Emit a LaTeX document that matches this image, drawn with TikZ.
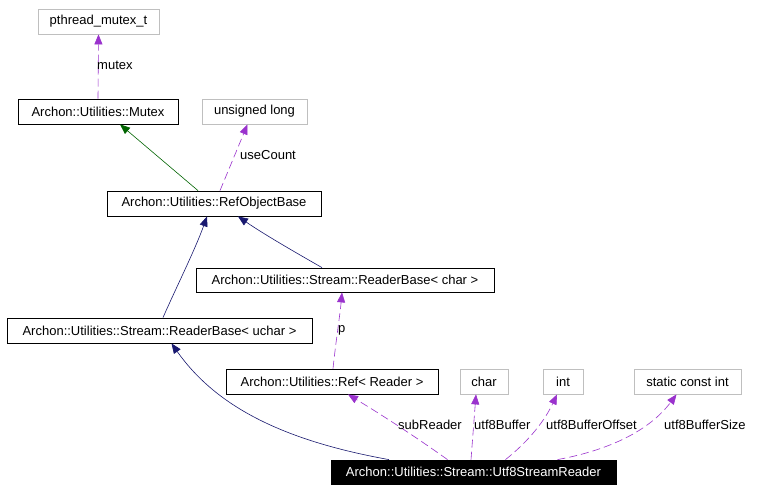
\documentclass[tikz,border=0pt]{standalone}
\usepackage{fontspec}
\setmainfont{Liberation Sans}
\usetikzlibrary{arrows.meta}
\definecolor{memb}{HTML}{9A32CD}
\definecolor{inh}{HTML}{191970}
\definecolor{prot}{HTML}{006400}
\definecolor{typeb}{HTML}{BFBFBF}
\begin{document}
\begin{tikzpicture}[x=1pt,y=-1pt,
  font=\fontsize{13}{15}\selectfont,
  cls/.style={draw=black,line width=0.8pt,minimum height=25pt,inner sep=0pt,anchor=center},
  typ/.style={draw=typeb,line width=0.8pt,minimum height=25pt,inner sep=0pt,anchor=center},
  membl/.style={draw=memb,line width=0.6pt,dash pattern=on 8pt off 4pt,arrows={-{Triangle[length=10pt,width=8pt,color=memb]}}},
  inhl/.style={draw=inh,line width=0.6pt,arrows={-{Triangle[length=10pt,width=8pt,color=inh]}}},
  protl/.style={draw=prot,line width=0.6pt,arrows={-{Triangle[length=10pt,width=8pt,color=prot]}}},
  lbl/.style={inner sep=0pt,anchor=west}]
\useasboundingbox[fill=white] (0,0) rectangle (779,491);
\node[typ,minimum width=121pt] (pm) at (98.5,21.5) {pthread\_mutex\_t};
\node[cls,minimum width=160pt] (mx) at (98,111.5) {Archon::Utilities::Mutex};
\node[typ,minimum width=105pt] (ul) at (254.5,111.5) {unsigned long};
\node[cls,minimum width=214pt] (rob) at (214,203.5) {Archon::Utilities::RefObjectBase};
\node[cls,minimum width=298pt,minimum height=24pt] (rbc) at (345,280) {Archon::Utilities::Stream::ReaderBase< char >};
\node[cls,minimum width=305pt] (rbu) at (159.5,330.5) {Archon::Utilities::Stream::ReaderBase< uchar >};
\node[cls,minimum width=212pt] (ref) at (332,381.5) {Archon::Utilities::Ref< Reader >};
\node[typ,minimum width=48pt] (ch) at (484,381.5) {char};
\node[typ,minimum width=40pt] (in) at (563,381.5) {int};
\node[typ,minimum width=107pt] (sci) at (687.5,381.5) {static const int};
\node[cls,fill=black,text=white,minimum width=285pt,minimum height=24pt] (u8) at (473.5,472) {Archon::Utilities::Stream::Utf8StreamReader};
% edges
\draw[membl] (mx.north) -- (pm.south);
\node[lbl] (lmx) at (97,65) {mutex};
\draw[protl] ([xshift=-16]rob.north) -- ([xshift=22]mx.south);
\draw[membl] ([xshift=6]rob.north) -- ([xshift=-7]ul.south);
\node[lbl] (luc) at (240,155) {useCount};
\draw[inhl] ([xshift=3.5]rbu.north) .. controls (175,290) and (195,250) .. ([xshift=-7]rob.south);
\draw[inhl] ([xshift=-23]rbc.north) .. controls (300,255) and (265,235) .. ([xshift=24]rob.south);
\draw[membl] ([xshift=1]ref.north) .. controls (336,340) and (340,315) .. ([xshift=-3]rbc.south);
\node[lbl] (lp) at (338,330) {p};
\draw[inhl] ([xshift=-84.5]u8.north) .. controls (280,440) and (215,405) .. ([xshift=12]rbu.south);
\draw[membl] ([xshift=-26]u8.north) .. controls (420,440) and (390,420) .. ([xshift=16]ref.south);
\node[lbl] (lsr) at (398,425) {subReader};
\draw[membl] ([xshift=-2.5]u8.north) -- ([xshift=-8]ch.south);
\node[lbl] (lub) at (474,425) {utf8Buffer};
\draw[membl] ([xshift=32]u8.north) .. controls (530,440) and (545,420) .. ([xshift=-6]in.south);
\node[lbl] (lubo) at (546,425) {utf8BufferOffset};
\draw[membl] ([xshift=84]u8.north) .. controls (610,450) and (650,430) .. ([xshift=-11]sci.south);
\node[lbl] (lubs) at (664,425) {utf8BufferSize};
\end{tikzpicture}
\end{document}
